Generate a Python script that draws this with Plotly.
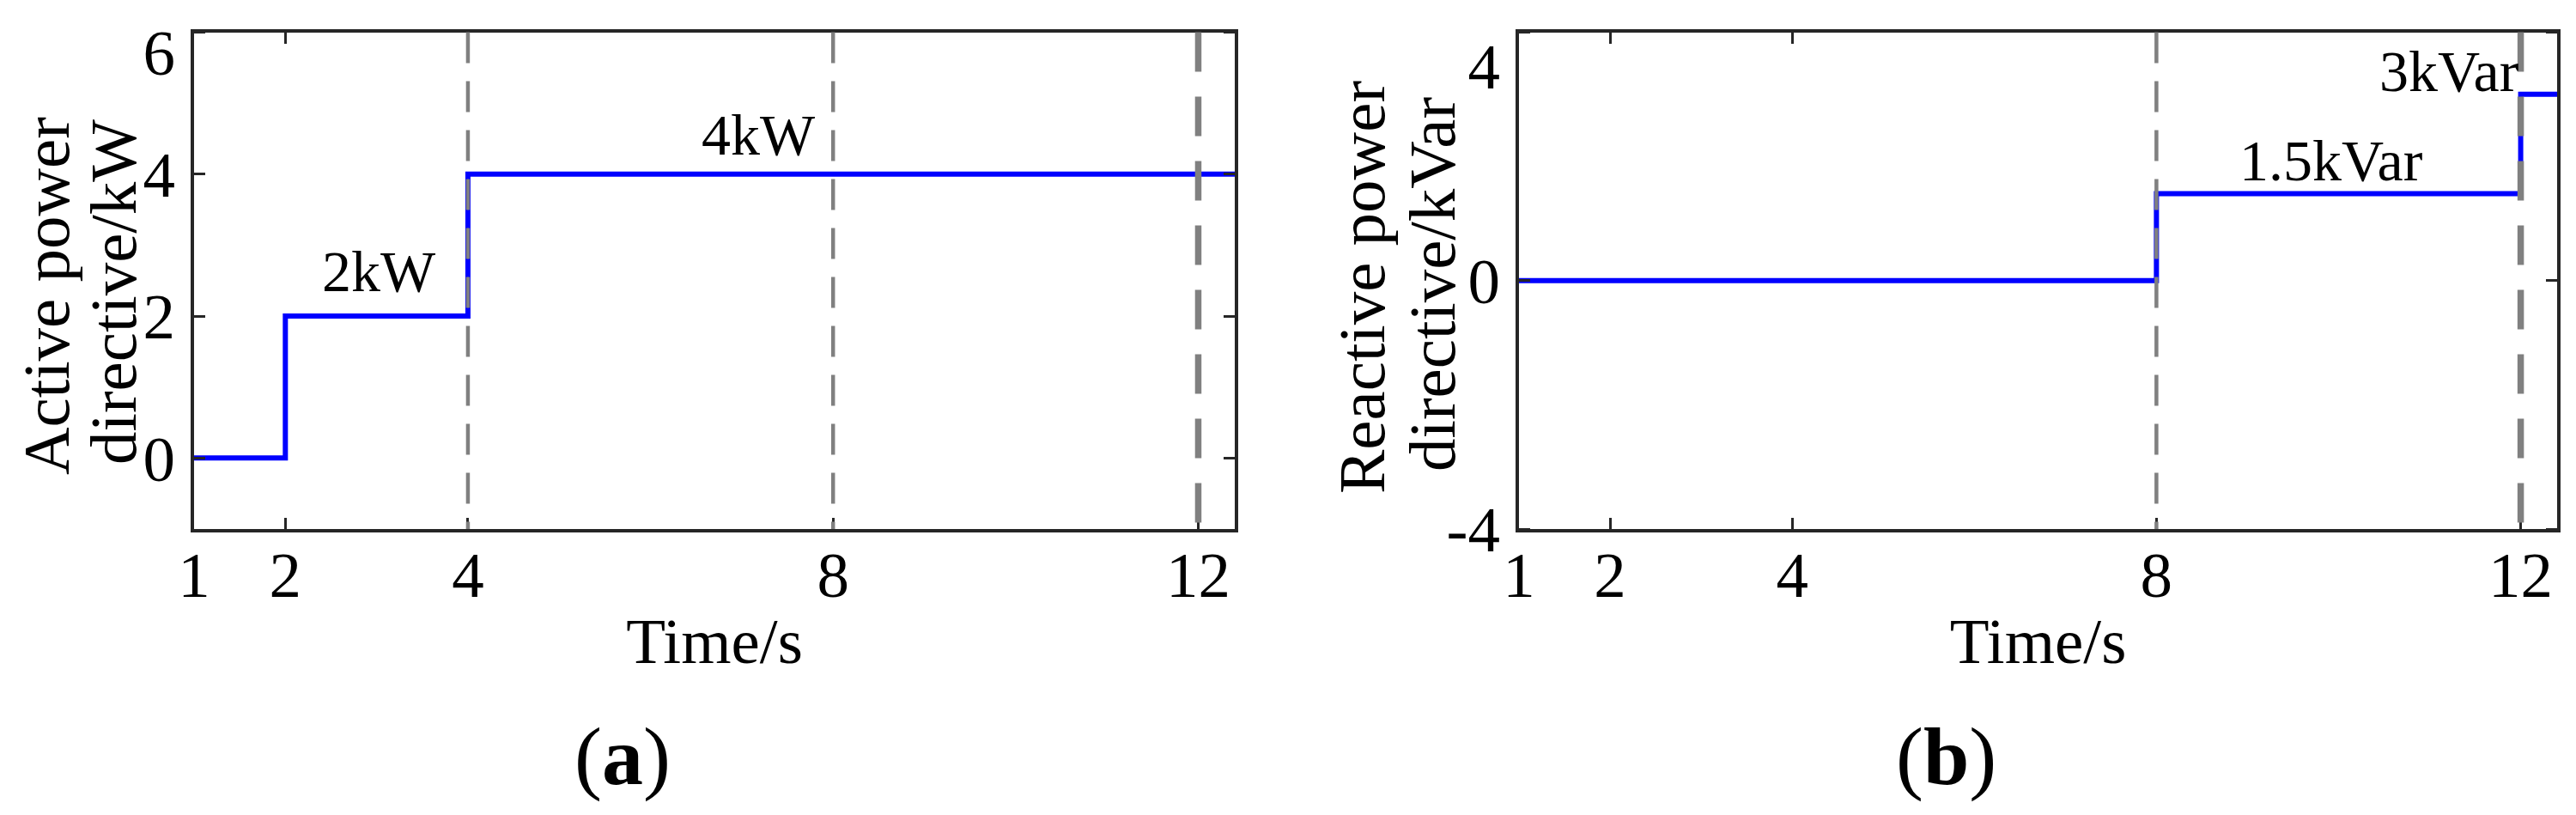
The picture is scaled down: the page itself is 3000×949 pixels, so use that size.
import plotly.graph_objects as go

# ---------------- data ----------------
time_a = [1, 2, 4, 12.4]
active_power_kw = [0, 2, 4, 4]

time_b = [1, 8, 12, 12.4]
reactive_power_kvar = [0, 1.4, 3, 3]

x_tickvals = [1, 2, 4, 8, 12]
x_ticktext = ["1", "2", "4", "8", "12"]

ya_tickvals = [0, 2, 4, 6]
ya_label_vals = [0, 2, 4, 5.72]
ya_ticktext = ["0", "2", "4", "6"]

yb_tickvals = [-4, 0, 4]
yb_label_vals = [-4, 0, 3.46]
yb_ticktext = ["-4", "0", "4"]

events_a = [4, 8, 12]
events_b = [8, 12]

labels_a = ["2kW", "4kW"]
labels_b = ["1.5kVar", "3kVar"]

# ---------------- styling ----------------
W, H = 3000, 949
OFF = 8  # page body margin in the browser
FONT = "Liberation Serif"
AX = "#262626"
BLUE = "#0000FF"
GRAY = "#808080"


def px(x):
    return (x - OFF) / W


def py(y):
    return 1 - (y - OFF) / H


y_dom = [py(616), py(37.5)]
xa_dom = [px(226), px(1438)]
xb_dom = [px(1769), px(2978)]

fig = go.Figure()

fig.add_trace(go.Scatter(x=time_a, y=active_power_kw, mode="lines", line_shape="hv",
                         line=dict(color=BLUE, width=6), xaxis="x", yaxis="y",
                         showlegend=False, hoverinfo="skip"))
fig.add_trace(go.Scatter(x=time_b, y=reactive_power_kvar, mode="lines", line_shape="hv",
                         line=dict(color=BLUE, width=6), xaxis="x2", yaxis="y2",
                         showlegend=False, hoverinfo="skip"))

common_axis = dict(showline=True, linecolor=AX, linewidth=4, mirror="allticks",
                   showgrid=False, zeroline=False, ticklabeloverflow="allow",
                   automargin=False,
                   tickfont=dict(family=FONT, size=75, color="black"))

xaxis_common = dict(common_axis, range=[1, 12.4], tickmode="array", tickvals=x_tickvals,
                    ticktext=x_ticktext, ticks="inside", ticklen=13, tickwidth=3,
                    tickcolor=AX, ticklabelstandoff=-15,
                    title=dict(text="Time/s", font=dict(family=FONT, size=75, color="black"),
                               standoff=10))

minor_ticks = dict(ticks="inside", ticklen=13, tickwidth=3, tickcolor=AX, tickmode="array")

fig.update_layout(
    width=W, height=H, margin=dict(l=0, r=0, t=0, b=0, autoexpand=False),
    paper_bgcolor="white", plot_bgcolor="white", showlegend=False,
    xaxis=dict(xaxis_common, domain=xa_dom, anchor="y"),
    xaxis2=dict(xaxis_common, domain=xb_dom, anchor="y2"),
    yaxis=dict(common_axis, domain=y_dom, anchor="x", range=[-1, 6],
               tickmode="array", tickvals=ya_label_vals, ticktext=ya_ticktext,
               ticks="", ticklabelstandoff=3,
               minor=dict(minor_ticks, tickvals=ya_tickvals)),
    yaxis2=dict(common_axis, domain=y_dom, anchor="x2", range=[-4, 4],
                tickmode="array", tickvals=yb_label_vals, ticktext=yb_ticktext,
                ticks="", ticklabelstandoff=3,
                minor=dict(minor_ticks, tickvals=yb_tickvals)),
)

# event markers (dashed verticals)
def add_events(events, xref, yref):
    for i, ev in enumerate(events):
        last = i == len(events) - 1
        fig.add_shape(type="line", xref=xref, yref=yref + " domain",
                      x0=ev, x1=ev, y0=1, y1=0, layer="above",
                      line=dict(color=GRAY, width=7.5 if last else 4.5,
                                dash="46px,29px" if last else "36px,21px"))

add_events(events_a, "x", "y")
add_events(events_b, "x2", "y2")

ann_font = dict(family=FONT, size=68, color="black")
fig.add_annotation(x=3.03, y=2.63, xref="x", yref="y", text=labels_a[0],
                   showarrow=False, font=ann_font)
fig.add_annotation(x=7.18, y=4.55, xref="x", yref="y", text=labels_a[1],
                   showarrow=False, font=ann_font)
fig.add_annotation(x=9.92, y=1.93, xref="x2", yref="y2", text=labels_b[0],
                   showarrow=False, font=ann_font)
fig.add_annotation(x=11.22, y=3.37, xref="x2", yref="y2", text=labels_b[1],
                   showarrow=False, font=ann_font)

# y-axis titles (two lines each, rotated)
ytitle_font = dict(family=FONT, size=77, color="black")
for txt, cx, cy in [("Active power", 54, 345), ("directive/kW", 132, 340),
                    ("Reactive power", 1586, 335), ("directive/kVar", 1668, 331)]:
    fig.add_annotation(x=px(cx), y=py(cy), xref="paper", yref="paper",
                       text=txt, textangle=-90, showarrow=False, font=ytitle_font,
                       xanchor="center", yanchor="middle")

# sub-figure captions
cap_font = dict(family=FONT, size=96, color="black")
fig.add_annotation(x=px(725), y=py(880), xref="paper", yref="paper",
                   text="(<b>a</b>)", showarrow=False, font=cap_font,
                   xanchor="center", yanchor="middle")
fig.add_annotation(x=px(2266), y=py(880), xref="paper", yref="paper",
                   text="(<b>b</b>)", showarrow=False, font=cap_font,
                   xanchor="center", yanchor="middle")

fig.write_html("out.html")
